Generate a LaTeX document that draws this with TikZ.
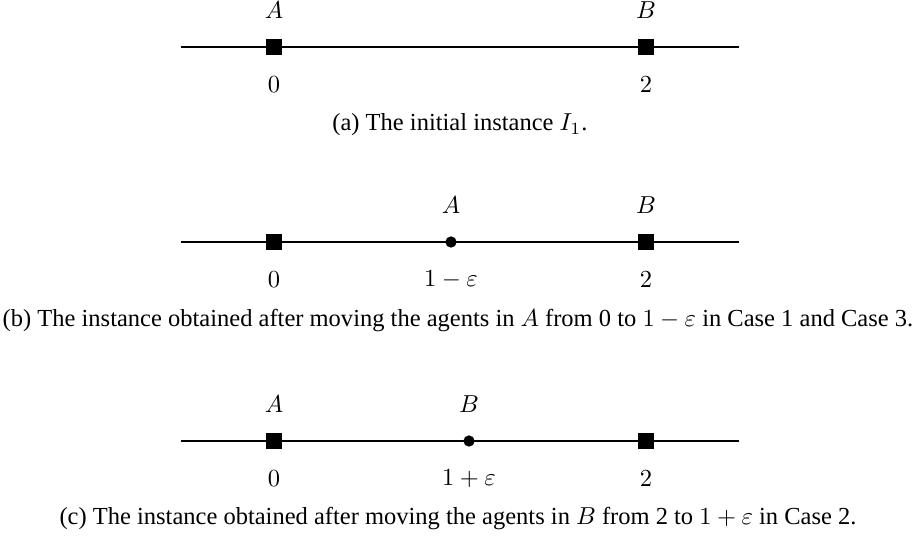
\documentclass[tikz,border=0pt]{standalone}
\usepackage{fontspec}
\setmainfont{Liberation Serif}
\usepackage{amsmath}
\usetikzlibrary{positioning}

\begin{document}
\begin{tikzpicture}[
			x=0.408pt, y=-0.408pt, node distance=15.2pt, on grid,
			site/.style={rectangle, fill, minimum size=6.9pt, inner sep=0pt},
			agent/.style={circle, fill, minimum size=4.6pt, inner sep=0pt},
			axis/.style={thick}
			]
			\useasboundingbox (0,0) rectangle (915,540);
			% (a)
			\coordinate (la) at (181,47);
			\coordinate (ra) at (739,47);
			\draw[axis] (la) -- (ra);
			\node[site] (a0) at (274,47) {};
			\node[site] (a2) at (646,47) {};
			\node (aA) [above=of a0] {$A$};
			\node (aB) [above=of a2] {$B$};
			\node (a0x) [below=of a0] {$0$};
			\node (a2x) [below=of a2] {$2$};
			\node (capa) at (460,125) {(a) The initial instance $I_1$.};
			% (b)
			\coordinate (lb) at (181,242);
			\coordinate (rb) at (739,242);
			\draw[axis] (lb) -- (rb);
			\node[site] (b0) at (274,242) {};
			\node[agent] (b1) at (451,242) {};
			\node[site] (b2) at (646,242) {};
			\node (bA) [above=of b1] {$A$};
			\node (bB) [above=of b2] {$B$};
			\node (b0x) [below=of b0] {$0$};
			\node (b1x) [below=of b1] {$1-\varepsilon$};
			\node (b2x) [below=of b2] {$2$};
			\node (capb) at (458,321) {(b) The instance obtained after moving the agents in $A$ from 0 to $1-\varepsilon$ in Case 1 and Case 3.};
			% (c)
			\coordinate (lc) at (181,441);
			\coordinate (rc) at (739,441);
			\draw[axis] (lc) -- (rc);
			\node[site] (c0) at (274,441) {};
			\node[agent] (c1) at (469,441) {};
			\node[site] (c2) at (646,441) {};
			\node (cA) [above=of c0] {$A$};
			\node (cB) [above=of c1] {$B$};
			\node (c0x) [below=of c0] {$0$};
			\node (c1x) [below=of c1] {$1+\varepsilon$};
			\node (c2x) [below=of c2] {$2$};
			\node (capc) at (458,519) {(c) The instance obtained after moving the agents in $B$ from 2 to $1+\varepsilon$ in Case 2.};
		\end{tikzpicture}
\end{document}
